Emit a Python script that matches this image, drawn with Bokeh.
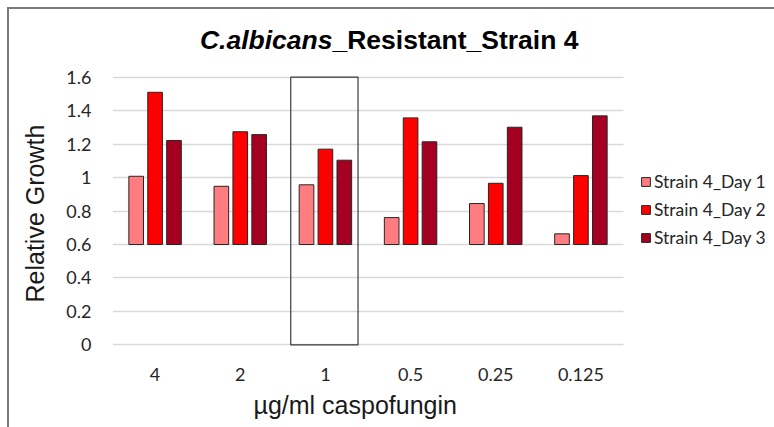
import math
from bokeh.plotting import figure
from bokeh.models import FixedTicker, Label, Title, Grid
from bokeh.embed import file_html
from bokeh.resources import INLINE

# ---- data ----
concentrations = ["4", "2", "1", "0.5", "0.25", "0.125"]
series_names = ["Strain 4_Day 1", "Strain 4_Day 2", "Strain 4_Day 3"]
day1 = [1.008, 0.948, 0.957, 0.761, 0.845, 0.664]
day2 = [1.510, 1.274, 1.170, 1.357, 0.966, 1.012]
day3 = [1.222, 1.257, 1.104, 1.214, 1.301, 1.369]
bar_baseline = 0.6
highlighted_concentration = "1"
highlight_range = [0, 1.6]
y_ticks = [0, 0.2, 0.4, 0.6, 0.8, 1.0, 1.2, 1.4, 1.6]
y_tick_labels = ["0", "0.2", "0.4", "0.6", "0.8", "1", "1.2", "1.4", "1.6"]
title_italic = "C.albicans"
title_rest = "_Resistant_Strain 4"
x_title = "µg/ml caspofungin"
y_title = "Relative Growth"

colors = ["#FF7C80", "#FF0000", "#A50021"]
offsets = [-0.222, 0.0, 0.222]
bar_width = 0.172
n_cat = len(concentrations)

# frame covers x 112..774 and y 0..347 (pixels); 85.17 px per category, 167.3 px per unit
p = figure(width=774, height=427, x_range=(0, 7.773), y_range=(-0.0155, 2.0586),
           output_backend="svg", toolbar_location=None,
           min_border_left=112, min_border_right=0,
           min_border_top=0, min_border_bottom=80)
p.background_fill_color = None
p.border_fill_color = None
p.outline_line_color = None
p.styles = {"background-color": "white",
            "box-shadow": "inset 7px 7px 0 0 #ffffff, inset 9px 9px 0 0 #7a7a7a"}

centers = [i + 0.5 for i in range(n_cat)]

# highlight box
hi = concentrations.index(highlighted_concentration)
p.quad(left=[centers[hi] - 0.407], right=[centers[hi] + 0.383],
       bottom=[highlight_range[0]], top=[highlight_range[1]],
       fill_alpha=0, line_color="#3a3a3a", line_width=1.2)

for vals, col, off, name in zip([day1, day2, day3], colors, offsets, series_names):
    p.vbar(x=[c + off for c in centers], width=bar_width, bottom=bar_baseline, top=vals,
           fill_color=col, line_color="#262626", line_width=1, legend_label=name)

# grid
p.xgrid.grid_line_color = None
p.ygrid.grid_line_color = "#D9D9D9"
p.ygrid.grid_line_width = 1.5
if "cross_bounds" in Grid.properties():
    p.ygrid.cross_bounds = (0, n_cat)

# axes
p.yaxis.ticker = FixedTicker(ticks=y_ticks)
p.yaxis.major_label_overrides = {t: l for t, l in zip(y_ticks, y_tick_labels)}
p.xaxis.ticker = FixedTicker(ticks=centers)
p.xaxis.major_label_overrides = {c: l for c, l in zip(centers, concentrations)}
for ax in (p.xaxis[0], p.yaxis[0]):
    ax.axis_line_color = None
    ax.major_tick_line_color = None
    ax.minor_tick_line_color = None
    ax.major_tick_in = 0
    ax.major_tick_out = 0
    ax.major_label_text_font = "Lato"
    ax.major_label_text_font_size = "18px"
    ax.major_label_text_color = "#262626"
p.yaxis.major_label_standoff = 21
p.xaxis.major_label_standoff = 20

# axis titles as panel titles (so they can be offset like the reference)
p.add_layout(Title(text=y_title, align="left", offset=45, standoff=30,
                   text_font="Liberation Sans", text_font_size="25px",
                   text_font_style="normal", text_color="#1a1a1a"), "left")
p.add_layout(Title(text=x_title, align="left", offset=141, standoff=11,
                   text_font="Liberation Sans", text_font_size="25px",
                   text_font_style="normal", text_color="#1a1a1a"), "below")

# legend
lg = p.legend[0]
lg.location = (528, 99)
lg.margin = 0
lg.padding = 0
lg.border_line_color = None
lg.background_fill_alpha = 0
lg.glyph_width = 11
lg.glyph_height = 11
lg.label_standoff = 3
lg.spacing = 7
lg.label_height = 20
lg.label_text_font = "Lato"
lg.label_text_font_size = "17.5px"
lg.label_text_color = "#262626"

# chart title (positions in data coordinates)
def dx(px):
    return (px - 112) / 85.17

def dy(py):
    return (344.4 - py) / 167.3

p.add_layout(Label(x=dx(332), y=dy(39), text=title_italic, text_align="right",
                   text_baseline="middle", text_font="Liberation Sans",
                   text_font_size="26.5px", text_font_style="bold italic", text_color="black"))
p.add_layout(Label(x=dx(332), y=dy(39), text=title_rest, text_align="left",
                   text_baseline="middle", text_font="Liberation Sans",
                   text_font_size="26.5px", text_font_style="bold", text_color="black"))

open("out.html", "w").write(file_html(p, INLINE))
